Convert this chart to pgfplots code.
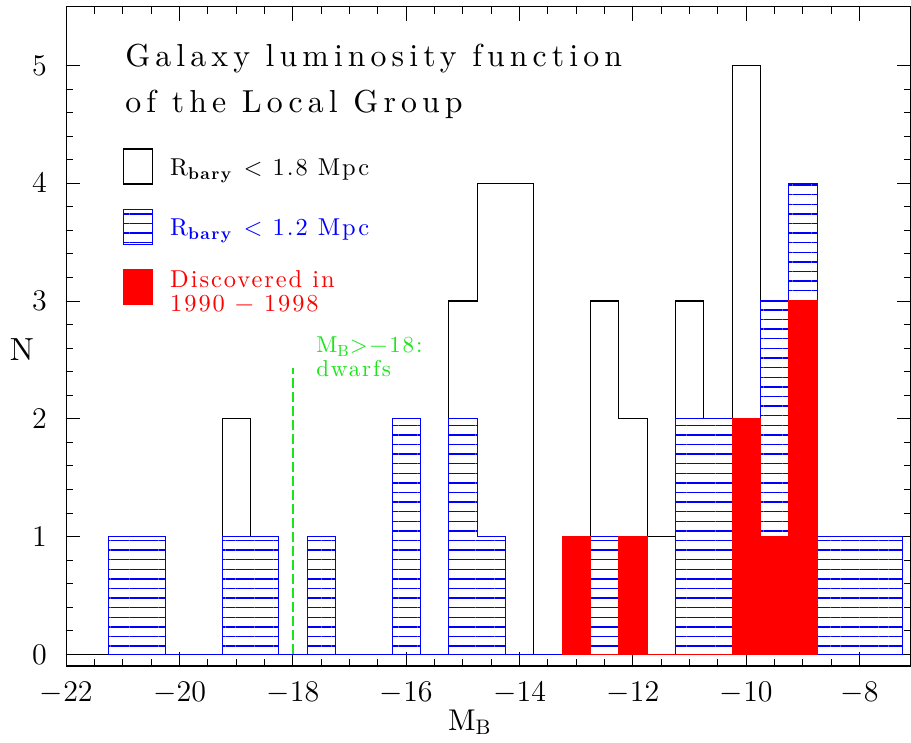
\RequirePackage{fix-cm}
\documentclass[border=0pt]{standalone}
\usepackage{fontspec}
\usepackage{pgfplots}
\pgfplotsset{compat=1.18}
\usetikzlibrary{patterns.meta}
\newfontfamily\hfont{lmroman10-regular.otf}[LetterSpace=8,BoldFont=lmroman10-bold.otf]
\newfontfamily\tfont{lmroman10-regular.otf}[LetterSpace=16]
\definecolor{pgblue}{rgb}{0,0,1}
\definecolor{pgred}{rgb}{1,0,0}
\definecolor{pggreen}{rgb}{0.1,0.9,0.1}

\begin{document}
\begin{tikzpicture}
\begin{axis}[
  scale only axis,
  width=422pt, height=329.6pt,
  xmin=-22, xmax=-7.1, ymin=-0.1, ymax=5.5,
  xtick={-22,-20,...,-8}, minor x tick num=3,
  ytick={0,1,...,5}, minor y tick num=4,
  major tick length=7pt, minor tick length=3.5pt,
  tick align=inside,
  tick style={black, line width=0.5pt},
  axis line style={line width=0.8pt},
  ticklabel style={font=\fontsize{15}{18}\selectfont},
  xticklabel style={inner sep=0pt, yshift=-8pt},
  yticklabel style={inner sep=0pt, xshift=-9.5pt},
  xlabel={M\textsubscript{B}},
  xlabel style={at={(axis description cs:0.478,0)}, anchor=base, yshift=-32pt, inner sep=0pt,
    font=\hfont\fontsize{15}{18}\selectfont},
  ylabel={N},
  ylabel style={at={(axis description cs:-0.0525,0.48)}, anchor=center, rotate=-90,
    font=\hfont\fontsize{16}{18}\selectfont},
  legend style={draw=none, fill=none, at={(0.0663,0.7857)}, anchor=north west,
    inner sep=0pt, row sep=12pt, font=\hfont\fontsize{12.2}{11.8}\selectfont,
    nodes={inner sep=0pt},
    /tikz/every odd column/.append style={column sep=8.65pt}},
  legend cell align=left,
  legend image code/.code={\draw[#1] (0pt,-8.75pt) rectangle (14.5pt,8.75pt);},
]
% R_bary < 1.8 Mpc
\addplot[black, line width=0.6pt, const plot] coordinates {
  (-22,0) (-21.25,1) (-20.75,1) (-20.25,0) (-19.75,0) (-19.25,2) (-18.75,1)
  (-18.25,0) (-17.75,1) (-17.25,0) (-16.75,0) (-16.25,2) (-15.75,0) (-15.25,3)
  (-14.75,4) (-14.25,4) (-13.75,0) (-13.25,1) (-12.75,3) (-12.25,2) (-11.75,1)
  (-11.25,3) (-10.75,2) (-10.25,5) (-9.75,3) (-9.25,4) (-8.75,1) (-8.25,1)
  (-7.75,1) (-7.25,0)
};
\addlegendentry{\parbox[c][17.5pt][c]{5cm}{R\textsubscript{\textbf{bary}} < 1.8 Mpc}}
% R_bary < 1.2 Mpc
\addplot[pgblue, line width=0.6pt, const plot,
  pattern={Lines[angle=0,distance=4.8pt,line width=0.7pt]}, pattern color=pgblue] coordinates {
  (-21.25,1) (-20.75,1) (-20.25,0) (-19.75,0) (-19.25,1) (-18.75,1) (-18.25,0)
  (-17.75,1) (-17.25,0) (-16.75,0) (-16.25,2) (-15.75,0) (-15.25,2) (-14.75,1)
  (-14.25,0) (-13.75,0) (-13.25,1) (-12.75,1) (-12.25,0) (-11.75,0) (-11.25,2)
  (-10.75,2) (-10.25,2) (-9.75,3) (-9.25,4) (-8.75,1) (-8.25,1) (-7.75,1) (-7.25,0)
} \closedcycle;
\addlegendentry{\parbox[c][17.5pt][c]{5cm}{\color{pgblue}R\textsubscript{\textbf{bary}} < 1.2 Mpc}}
% discovered 1990-1998
\addplot[pgred, fill=pgred, line width=0.6pt, const plot] coordinates {
  (-13.25,1) (-12.75,0) (-12.25,1) (-11.75,0) (-11.25,0) (-10.75,0)
  (-10.25,2) (-9.75,1) (-9.25,3) (-8.75,0)
} \closedcycle;
\addlegendentry{\parbox[c][17.5pt][c]{5cm}{\color{pgred}Discovered in\\1990 \textminus{} 1998}}
% dwarf limit
\addplot[pggreen, line width=0.8pt, dash pattern=on 5pt off 2pt, forget plot]
  coordinates {(-18,0) (-18,2.43)};

\node[anchor=base west, inner sep=0pt, font=\tfont\fontsize{15.9}{18}\selectfont]
  at (axis cs:-20.964,4.992) {Galaxy luminosity function};
\node[anchor=base west, inner sep=0pt, font=\tfont\fontsize{15.9}{18}\selectfont]
  at (axis cs:-20.964,4.599) {of the Local Group};
\node[anchor=base west, inner sep=0pt, text=pggreen, font=\hfont\fontsize{11.5}{13}\selectfont]
  at (axis cs:-17.594,2.56) {M\textsubscript{B}>\textminus18:};
\node[anchor=base west, inner sep=0pt, text=pggreen, font=\hfont\fontsize{11.5}{13}\selectfont]
  at (axis cs:-17.594,2.359) {dwarfs};
\end{axis}
\pgfresetboundingbox
\path[use as bounding box] ([shift={(-33.15pt,-38pt)}]current axis.south west)
  rectangle ([shift={(0.2pt,3.35pt)}]current axis.north east);
\end{tikzpicture}
\end{document}
